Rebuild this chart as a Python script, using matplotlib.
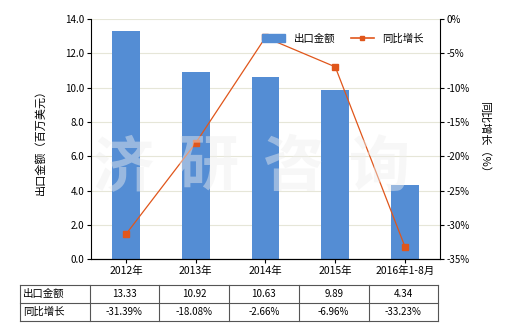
import numpy as np
import matplotlib
matplotlib.use("Agg")
from matplotlib import pyplot as plt
from matplotlib.lines import Line2D
from matplotlib.patches import Patch

plt.rcParams['font.family'] = ['Noto Sans CJK SC', 'DejaVu Sans']
plt.rcParams['axes.unicode_minus'] = False

years = ['2012年', '2013年', '2014年', '2015年', '2016年1-8月']
export_value = [13.33, 10.92, 10.63, 9.89, 4.34]
yoy_growth = [-31.39, -18.08, -2.66, -6.96, -33.23]
value_text = ['13.33', '10.92', '10.63', '9.89', '4.34']
growth_text = ['-31.39%', '-18.08%', '-2.66%', '-6.96%', '-33.23%']

bar_color = '#548dd4'
line_color = '#e0561b'

fig = plt.figure(figsize=(5.2, 3.3), dpi=100)
ax = fig.add_axes([0.175, 0.215, 0.671, 0.727])
x = np.arange(len(years))

ax.bar(x, export_value, width=0.4, color=bar_color, zorder=2)
ax.set_xlim(-0.5, len(years) - 0.5)
ax.set_ylim(0, 14)
ax.set_yticks(np.arange(0, 14.1, 2))
ax.set_yticklabels(['%.1f' % v for v in np.arange(0, 14.1, 2)], fontsize=7)
ax.set_xticks(x)
ax.set_xticklabels(years, fontsize=7.5)
ax.grid(axis='y', color='#e6e6d8', linewidth=0.8, zorder=0)
ax.set_axisbelow(True)
ax.spines['top'].set_visible(False)
ax.spines['right'].set_visible(False)
ax.tick_params(axis='both', length=3, width=0.8, pad=2)
ax.set_ylabel('出口金额（百万美元）', fontsize=8, labelpad=14)

ax2 = ax.twinx()
ax2.plot(x, yoy_growth, color=line_color, linewidth=0.9, marker='s',
         markersize=4, zorder=3)
ax2.set_ylim(-35, 0)
ax2.set_yticks(np.arange(-35, 1, 5))
ax2.set_yticklabels(['%d%%' % v for v in np.arange(-35, 1, 5)], fontsize=7)
ax2.spines['top'].set_visible(False)
ax2.spines['left'].set_visible(False)
ax2.tick_params(axis='y', length=3, width=0.8, pad=2)
ax2.set_ylabel('同比增长（%）', fontsize=8, rotation=270, labelpad=14)

# watermark
for cx, ch in zip([0.235, 0.4, 0.565, 0.73], '济研咨询'):
    fig.text(cx, 0.49, ch, fontsize=44, color='#eeeeee', alpha=0.45,
             ha='center', va='center', fontweight='bold', zorder=10)

handles = [Patch(color=bar_color, label='出口金额'),
           Line2D([0], [0], color=line_color, marker='s', markersize=3,
                  linewidth=1.2, label='同比增长')]
ax2.legend(handles=handles, loc='upper right', ncol=2, frameon=False,
           fontsize=7.5, bbox_to_anchor=(0.98, 0.98), handlelength=2.2,
           columnspacing=1.5)

# data table below
tab = fig.add_axes([0.038, 0.027, 0.805, 0.109])
tab.set_xlim(0, 6)
tab.set_ylim(0, 2)
tab.axis('off')
col_edges = [0, 1, 2, 3, 4, 5, 6]
for e in col_edges:
    tab.plot([e, e], [0, 2], color='#555555', linewidth=0.8, clip_on=False)
for r in [0, 1, 2]:
    tab.plot([0, 6], [r, r], color='#555555', linewidth=0.8, clip_on=False)
tab.text(0.05, 1.5, '出口金额', fontsize=7.5, va='center', ha='left')
tab.text(0.05, 0.5, '同比增长', fontsize=7.5, va='center', ha='left')
for i in range(len(years)):
    tab.text(i + 1.5, 1.5, value_text[i], fontsize=7, va='center', ha='center')
    tab.text(i + 1.5, 0.5, growth_text[i], fontsize=7, va='center', ha='center')

fig.savefig('out.png', dpi=100)
